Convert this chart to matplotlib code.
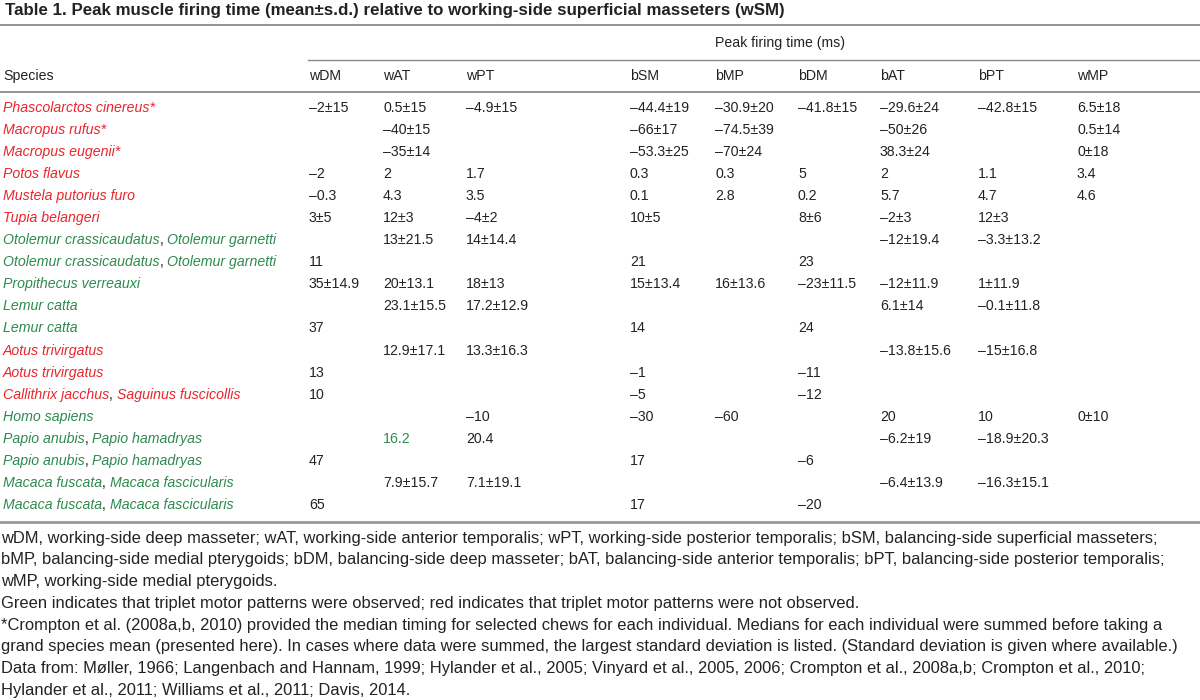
import matplotlib
matplotlib.use("Agg")
import matplotlib.pyplot as plt
from matplotlib.lines import Line2D

# Table 1 data (empty string = no value)
species = [
    "Phascolarctos cinereus*", "Macropus rufus*", "Macropus eugenii*", "Potos flavus",
    "Mustela putorius furo", "Tupia belangeri",
    "Otolemur crassicaudatus, Otolemur garnetti", "Otolemur crassicaudatus, Otolemur garnetti",
    "Propithecus verreauxi", "Lemur catta", "Lemur catta", "Aotus trivirgatus", "Aotus trivirgatus",
    "Callithrix jacchus, Saguinus fuscicollis", "Homo sapiens",
    "Papio anubis, Papio hamadryas", "Papio anubis, Papio hamadryas",
    "Macaca fuscata, Macaca fascicularis", "Macaca fuscata, Macaca fascicularis",
]
# 1 = triplet motor pattern observed (green), 0 = not observed (red)
triplet = [0, 0, 0, 0, 0, 0, 1, 1, 1, 1, 1, 0, 0, 0, 1, 1, 1, 1, 1]

columns = ["wDM", "wAT", "wPT", "bSM", "bMP", "bDM", "bAT", "bPT", "wMP"]
wDM = ["–2±15", "", "", "–2", "–0.3", "3±5", "", "11", "35±14.9", "", "37", "", "13", "10", "", "", "47", "", "65"]
wAT = ["0.5±15", "–40±15", "–35±14", "2", "4.3", "12±3", "13±21.5", "", "20±13.1", "23.1±15.5", "",
       "12.9±17.1", "", "", "", "16.2", "", "7.9±15.7", ""]
wPT = ["–4.9±15", "", "", "1.7", "3.5", "–4±2", "14±14.4", "", "18±13", "17.2±12.9", "",
       "13.3±16.3", "", "", "–10", "20.4", "", "7.1±19.1", ""]
bSM = ["–44.4±19", "–66±17", "–53.3±25", "0.3", "0.1", "10±5", "", "21", "15±13.4", "", "14", "",
       "–1", "–5", "–30", "", "17", "", "17"]
bMP = ["–30.9±20", "–74.5±39", "–70±24", "0.3", "2.8", "", "", "", "16±13.6", "", "", "", "", "",
       "–60", "", "", "", ""]
bDM = ["–41.8±15", "", "", "5", "0.2", "8±6", "", "23", "–23±11.5", "", "24", "", "–11", "–12", "",
       "", "–6", "", "–20"]
bAT = ["–29.6±24", "–50±26", "38.3±24", "2", "5.7", "–2±3", "–12±19.4", "", "–12±11.9", "6.1±14", "",
       "–13.8±15.6", "", "", "20", "–6.2±19", "", "–6.4±13.9", ""]
bPT = ["–42.8±15", "", "", "1.1", "4.7", "12±3", "–3.3±13.2", "", "1±11.9", "–0.1±11.8", "",
       "–15±16.8", "", "", "10", "–18.9±20.3", "", "–16.3±15.1", ""]
wMP = ["6.5±18", "0.5±14", "0±18", "3.4", "4.6", "", "", "", "", "", "", "", "", "", "0±10", "", "", "", ""]
values = [wDM, wAT, wPT, bSM, bMP, bDM, bAT, bPT, wMP]
# cells printed in green in the original (row, column)
green_cells = [(15, 1)]

title = "Table 1. Peak muscle firing time (mean±s.d.) relative to working-side superficial masseters (wSM)"
footnotes = [
    "wDM, working-side deep masseter; wAT, working-side anterior temporalis; wPT, working-side posterior temporalis; bSM, balancing-side superficial masseters;",
    "bMP, balancing-side medial pterygoids; bDM, balancing-side deep masseter; bAT, balancing-side anterior temporalis; bPT, balancing-side posterior temporalis;",
    "wMP, working-side medial pterygoids.",
    "Green indicates that triplet motor patterns were observed; red indicates that triplet motor patterns were not observed.",
    "*Crompton et al. (2008a,b, 2010) provided the median timing for selected chews for each individual. Medians for each individual were summed before taking a",
    "grand species mean (presented here). In cases where data were summed, the largest standard deviation is listed. (Standard deviation is given where available.)",
    "Data from: Møller, 1966; Langenbach and Hannam, 1999; Hylander et al., 2005; Vinyard et al., 2005, 2006; Crompton et al., 2008a,b; Crompton et al., 2010;",
    "Hylander et al., 2011; Williams et al., 2011; Davis, 2014.",
]

RED = "#e8262c"
GREEN = "#2e8a4f"
TXT = "#222222"
W, H = 1200, 700
col_x = [309, 383, 466, 630, 715, 798, 880, 978, 1077]

fig = plt.figure(figsize=(12, 7), dpi=100)
fig.patch.set_facecolor("white")


def px(x, y):
    return x / W, 1 - y / H


def hline(x0, x1, y, lw=1.0, color="#8a8a8a"):
    fig.add_artist(Line2D([x0 / W, x1 / W], [1 - y / H, 1 - y / H], transform=fig.transFigure,
                          color=color, lw=lw))


body = dict(family=["Liberation Sans", "DejaVu Sans"], fontsize=10.2, va="center")
note = dict(family=["Liberation Sans", "DejaVu Sans"], fontsize=11.9, va="center")

fig.text(*px(5, 11), title, fontweight="bold", color=TXT,
         **{**note, "fontsize": 12.2})
hline(0, W, 25, lw=1.3)

fig.text(*px(780, 43), "Peak firing time (ms)", ha="center", color=TXT, **body)
hline(308, W, 60, lw=1.0)
fig.text(*px(3, 76), "Species", color=TXT, **body)
for c, x in zip(columns, col_x):
    fig.text(*px(x, 76), c, color=TXT, **body)
hline(0, W, 92, lw=1.3)

renderer = fig.canvas.get_renderer()
row_y0, row_dy = 108, 22.05
for i, name in enumerate(species):
    y = row_y0 + i * row_dy
    color = GREEN if triplet[i] else RED
    # species name, comma separators in black upright text
    parts = name.split(", ")
    x = 3
    for k, part in enumerate(parts):
        t = fig.text(*px(x, y), part, style="italic", color=color, **body)
        x += t.get_window_extent(renderer).width
        if k < len(parts) - 1:
            t = fig.text(*px(x, y), ", ", color=TXT, **body)
            x += t.get_window_extent(renderer).width
    for j, col in enumerate(values):
        if col[i]:
            c = GREEN if (i, j) in green_cells else TXT
            fig.text(*px(col_x[j], y), col[i], color=c, **body)

hline(0, W, 522, lw=2.0, color="#999999")

for k, line in enumerate(footnotes):
    fig.text(*px(1, 538 + k * 21.8), line, color=TXT, **note)

fig.savefig("out.png", dpi=100, facecolor="white")
